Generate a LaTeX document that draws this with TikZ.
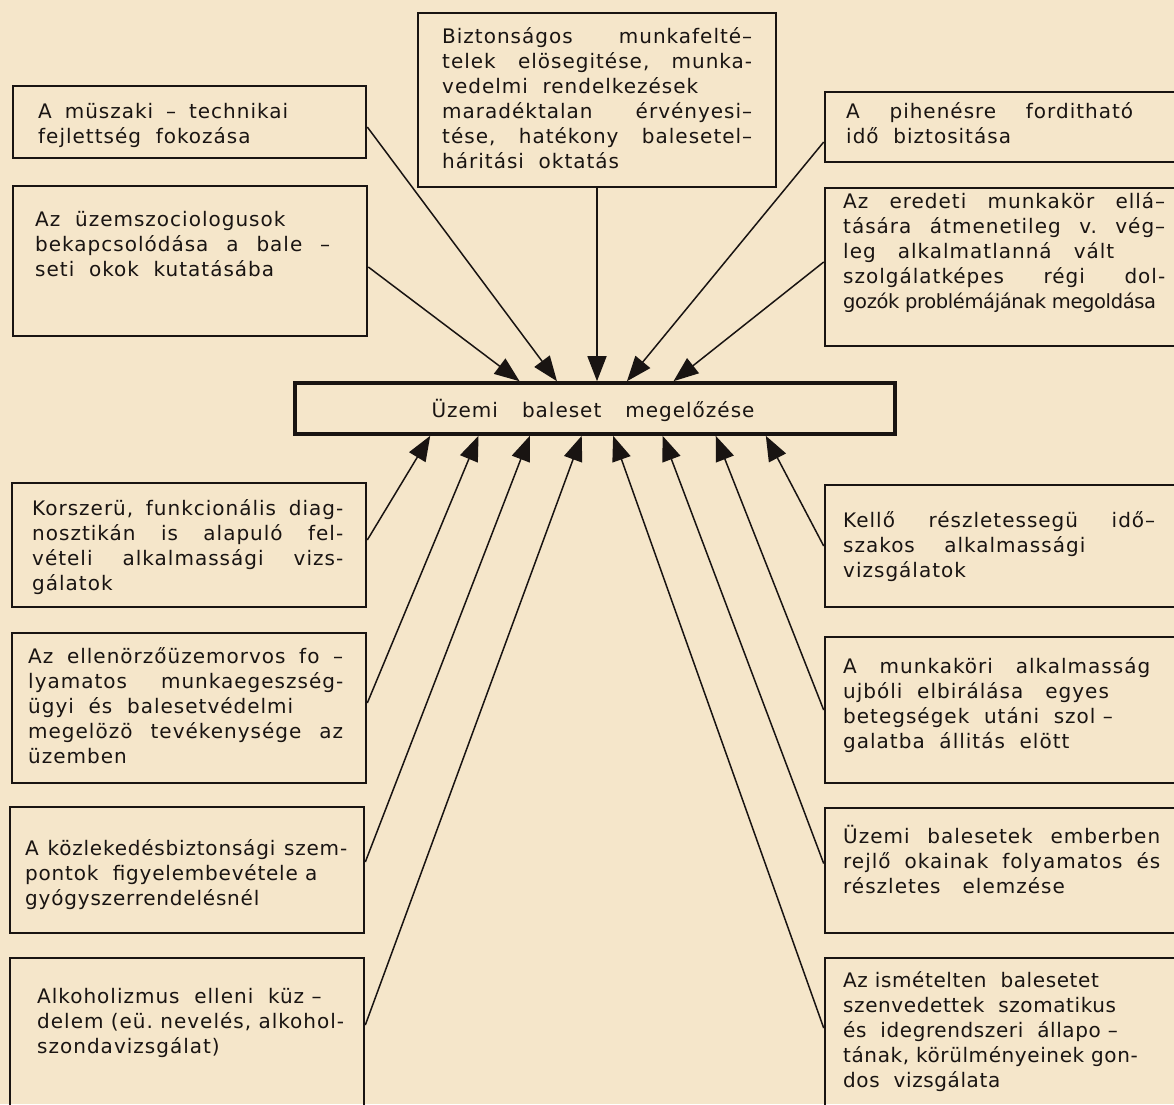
\documentclass[tikz,border=0pt]{standalone}
\usepackage{fontspec}
\setmainfont{DejaVu Sans}[LetterSpace=5]
\usetikzlibrary{arrows.meta,calc,fit}
\definecolor{paper}{RGB}{245,230,202}
\definecolor{ink}{RGB}{25,20,18}
\frenchspacing

\begin{document}
\begin{tikzpicture}[x=1pt,y=-1pt,
  box/.style={draw=ink,line width=2.6pt,inner sep=0pt},
  txt/.style={anchor=base west,inner sep=0pt,align=justify,text=ink,font=\fontsize{20}{25}\selectfont},
  arr/.style={draw=ink,line width=1.5pt,-{Triangle[length=25pt,width=19pt]}}]
\useasboundingbox (0,0) rectangle (1174,1104);
\fill[paper] (0,0) rectangle (1174,1104);
\clip (0,0) rectangle (1174,1104);
% boxes
\node[box,fit={(13,86) (366,158)}] (tl1) {};
\node[box,fit={(13,186) (367,336)}] (tl2) {};
\node[box,fit={(418,13) (776,187)}] (tc) {};
\node[box,fit={(825,92) (1190,162)}] (tr1) {};
\node[box,fit={(825,188) (1190,346)}] (tr2) {};
\node[box,line width=3.6pt,fit={(295,383) (895,434)}] (ctr) {};
\node[box,fit={(12,483) (366,607)}] (l1) {};
\node[box,fit={(12,633) (366,783)}] (l2) {};
\node[box,fit={(10,807) (364,933)}] (l3) {};
\node[box,fit={(10,958) (364,1120)}] (l4) {};
\node[box,fit={(825,485) (1190,607)}] (r1) {};
\node[box,fit={(825,637) (1190,783)}] (r2) {};
\node[box,fit={(825,808) (1190,933)}] (r3) {};
\node[box,fit={(825,958) (1190,1120)}] (r4) {};
% texts
\node[anchor=base,inner sep=0pt,text=ink,font=\fontsize{20}{25}\selectfont] (ctrt) at (593,417) {Üzemi\hspace{24pt}baleset\hspace{24pt}megelőzése};
\node[txt,text width=250pt] (tl1t) at (38,118) {A müszaki – technikai\linebreak fejlettség\ \ fokozása};
\node[txt,text width=295pt] (tl2t) at (35,226) {Az\ \ üzemszociologusok\\bekapcsolódása a bale –\linebreak seti\ \ okok\ \ kutatásába};
\node[txt,text width=310pt] (tct) at (442,43) {Biztonságos munkafelté–\linebreak telek elösegitése, munka-\linebreak vedelmi\ \ rendelkezések\\maradéktalan érvényesi–\linebreak tése, hatékony balesetel–\linebreak háritási\ \ oktatás};
\node[txt,text width=287pt] (tr1t) at (846,118) {A pihenésre forditható\linebreak idő\ \ biztositása};
\node[txt,text width=322pt] (tr2t) at (843,208) {Az eredeti munkakör ellá–\linebreak tására átmenetileg v. vég–\linebreak leg\ \ \ alkalmatlanná\ \ \ vált\\szolgálatképes régi dol-\linebreak \mbox{\fontsize{19.5}{25}\selectfont\addfontfeatures{LetterSpace=-2}gozók problémájának megoldása}};
\node[txt,text width=311pt] (l1t) at (32,515) {Korszerü, funkcionális diag-\linebreak nosztikán is alapuló fel-\linebreak vételi alkalmassági vizs-\linebreak gálatok};
\node[txt,text width=315pt] (l2t) at (28,663) {Az ellenörzőüzemorvos fo –\linebreak lyamatos munkaegeszség-\linebreak ügyi\ \ és\ \ balesetvédelmi\\megelözö tevékenysége az\linebreak üzemben};
\node[txt,text width=322pt,font=\fontsize{20}{25}\selectfont\addfontfeatures{LetterSpace=4}] (l3t) at (25,855) {A közlekedésbiztonsági szem-\linebreak pontok\ \ figyelembevétele a\\gyógyszerrendelésnél};
\node[txt,text width=330pt] (l4t) at (37,1003) {Alkoholizmus\ \ elleni\ \ küz –\\delem (eü. nevelés, alkohol-\\szondavizsgálat)};
\node[txt,text width=312pt] (r1t) at (843,527) {Kellő részletessegü idő–\linebreak szakos\ \ \ \ alkalmassági\\vizsgálatok};
\node[txt,text width=307pt] (r2t) at (843,673) {A munkaköri alkalmasság\linebreak ujbóli\ \ elbirálása\ \ \ egyes\\betegségek\ \ utáni\ \ szol –\\galatba\ \ állitás\ \ elött};
\node[txt,text width=317pt] (r3t) at (843,843) {Üzemi balesetek emberben\linebreak rejlő okainak folyamatos és\linebreak részletes\ \ \ elemzése};
\node[txt,text width=330pt,font=\fontsize{20}{25}\selectfont\addfontfeatures{LetterSpace=3}] (r4t) at (843,987) {Az ismételten\ \ balesetet\\szenvedettek\ \ szomatikus\\és\ \ idegrendszeri\ \ állapo –\\tának, körülményeinek gon-\\dos\ \ vizsgálata};
% arrows into the centre box
\draw[arr] ([yshift=-5pt]tl1.east) -- ($(ctr.north west)!0.437!(ctr.north east)$);
\draw[arr] ([yshift=-6pt]tl2.east) -- ($(ctr.north west)!0.375!(ctr.north east)$);
\draw[arr] (tc.south) -- (tc.south |- ctr.north);
\draw[arr] ([yshift=-15pt]tr1.west) -- ($(ctr.north west)!0.553!(ctr.north east)$);
\draw[arr] ([yshift=5pt]tr2.west) -- ($(ctr.north west)!0.63!(ctr.north east)$);
\draw[arr] ([yshift=5pt]l1.east) -- ($(ctr.south west)!0.227!(ctr.south east)$);
\draw[arr] ([yshift=5pt]l2.east) -- ($(ctr.south west)!0.307!(ctr.south east)$);
\draw[arr] ([yshift=8pt]l3.east) -- ($(ctr.south west)!0.392!(ctr.south east)$);
\draw[arr] ([yshift=14pt]l4.east) -- ($(ctr.south west)!0.478!(ctr.south east)$);
\draw[arr] (r1.west) -- ($(ctr.south west)!0.783!(ctr.south east)$);
\draw[arr] (r2.west) -- ($(ctr.south west)!0.70!(ctr.south east)$);
\draw[arr] ([yshift=7pt]r3.west) -- ($(ctr.south west)!0.612!(ctr.south east)$);
\draw[arr] ([yshift=11pt]r4.west) -- ($(ctr.south west)!0.53!(ctr.south east)$);
\end{tikzpicture}
\end{document}
